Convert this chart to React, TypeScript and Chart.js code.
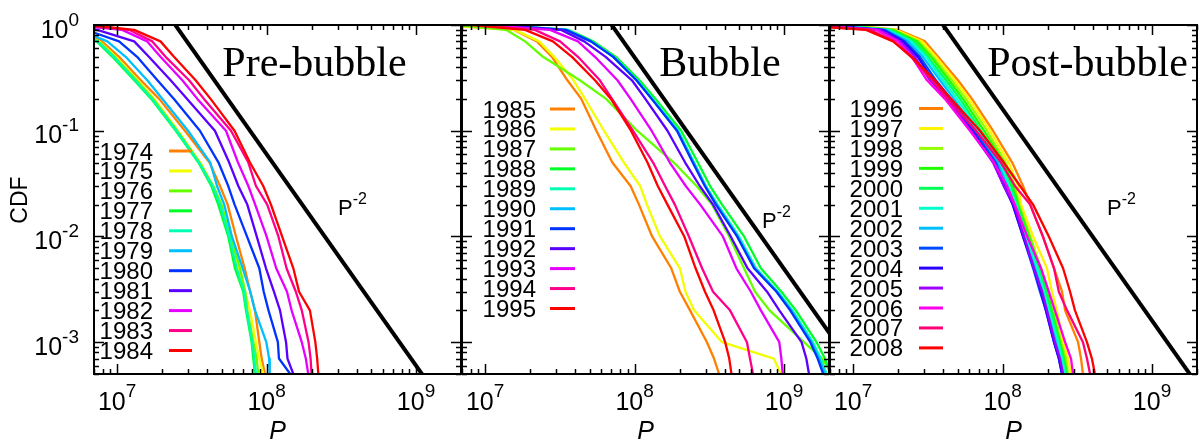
import React, { useEffect, useRef } from "react";
import { Chart, registerables } from "chart.js";

Chart.register(...registerables);

// ---------------- data ----------------
// CDF levels shared by every curve; each series gives the P value where its CDF crosses that level
const cdfLevels = [1, 0.9, 0.7, 0.5, 0.3, 0.2, 0.1, 0.05, 0.03, 0.02, 0.01, 0.005, 0.003, 0.002, 0.001, 0.0007, 0.0005];

const preBubbleYears = ["1974", "1975", "1976", "1977", "1978", "1979", "1980", "1981", "1982", "1983", "1984"];
const preBubbleP = [
  [2.2e6, 5.2e6, 7.9e6, 1.03e7, 1.44e7, 1.91e7, 2.84e7, 4.15e7, 4.88e7, 5.49e7, 6.24e7, 7.13e7, 7.78e7, 8.36e7, 8.94e7, 9.27e7, 9.75e7],
  [2.1e6, 4.7e6, 7.6e6, 9.8e6, 1.37e7, 1.77e7, 2.55e7, 3.6e7, 4.36e7, 4.93e7, 5.69e7, 6.47e7, 7.16e7, 7.74e7, 8.49e7, 8.94e7, 9.5e7],
  [2.0e6, 4.6e6, 7.5e6, 9.6e6, 1.35e7, 1.74e7, 2.52e7, 3.56e7, 4.4e7, 5.0e7, 5.75e7, 6.64e7, 7.2e7, 7.43e7, 8.15e7, 8.59e7, 8.79e7],
  [1.9e6, 4.4e6, 7.3e6, 9.3e6, 1.3e7, 1.69e7, 2.47e7, 3.5e7, 4.27e7, 4.75e7, 5.54e7, 6.14e7, 6.98e7, 7.28e7, 7.94e7, 8.15e7, 8.36e7],
  [2.0e6, 4.5e6, 7.4e6, 9.5e6, 1.32e7, 1.71e7, 2.5e7, 3.53e7, 4.34e7, 4.88e7, 5.63e7, 6.31e7, 7.06e7, 7.36e7, 8.02e7, 8.28e7, 8.49e7],
  [2.5e6, 5.5e6, 8.6e6, 1.14e7, 1.59e7, 2.01e7, 2.98e7, 4.2e7, 4.66e7, 5.21e7, 5.86e7, 6.92e7, 7.78e7, 8.36e7, 9.96e7, 1.04e8, 1.05e8],
  [3.0e6, 6.2e6, 1.03e7, 1.36e7, 1.86e7, 2.4e7, 3.58e7, 4.77e7, 5.54e7, 6.11e7, 7.39e7, 8.94e7, 9.57e7, 1.03e8, 1.19e8, 1.21e8, 1.44e8],
  [4.0e6, 7.36e6, 1.3e7, 1.63e7, 2.28e7, 2.94e7, 4.51e7, 5.62e7, 6.47e7, 7.43e7, 8.59e7, 9.91e7, 1.12e8, 1.23e8, 1.35e8, 1.38e8, 1.51e8],
  [5.0e6, 1.08e7, 1.59e7, 1.95e7, 2.73e7, 3.44e7, 5.35e7, 6.44e7, 7.55e7, 8.39e7, 1.0e8, 1.16e8, 1.37e8, 1.47e8, 1.72e8, 1.83e8, 1.9e8],
  [5.5e6, 1.2e7, 1.72e7, 2.11e7, 3.03e7, 3.81e7, 5.78e7, 7.55e7, 8.49e7, 1.01e8, 1.2e8, 1.36e8, 1.57e8, 1.72e8, 1.91e8, 1.97e8, 2.0e8],
  [6.5e6, 1.3e7, 1.95e7, 2.4e7, 3.35e7, 4.22e7, 6.1e7, 7.74e7, 9.5e7, 1.07e8, 1.27e8, 1.51e8, 1.65e8, 1.95e8, 2.12e8, 2.18e8, 2.22e8],
];

const bubbleYears = ["1985", "1986", "1987", "1988", "1989", "1990", "1991", "1992", "1993", "1994", "1995"];
const bubbleP = [
  [5e6, 1.55e7, 2.22e7, 2.8e7, 3.55e7, 4.4e7, 5.55e7, 7.1e7, 9.4e7, 1.07e8, 1.31e8, 1.76e8, 2.01e8, 2.35e8, 3.05e8, 3.4e8, 3.68e8],
  [5e6, 1.58e7, 2.3e7, 2.9e7, 3.9e7, 4.66e7, 6.24e7, 8.49e7, 1.09e8, 1.21e8, 1.48e8, 2.01e8, 2.19e8, 2.5e8, 3.85e8, 8.53e8, 9.55e8],
  [6.5e6, 1.38e7, 1.85e7, 2.44e7, 4.3e7, 6.45e7, 1.04e8, 1.83e8, 2.6e8, 3.3e8, 4.3e8, 5.4e8, 6.4e8, 8.0e8, 1.36e9, 1.8e9, 2.1e9],
  [1.25e7, 3.6e7, 5.3e7, 7.5e7, 1.08e8, 1.38e8, 2.05e8, 2.65e8, 3.2e8, 3.85e8, 5.4e8, 7.0e8, 9.6e8, 1.2e9, 1.65e9, 1.88e9, 2.05e9],
  [1.2e7, 3.5e7, 5.15e7, 7.25e7, 1.04e8, 1.32e8, 1.96e8, 2.5e8, 3.0e8, 3.6e8, 5.0e8, 6.5e8, 9.1e8, 1.14e9, 1.56e9, 1.76e9, 1.93e9],
  [1.2e7, 3.5e7, 5.1e7, 7.2e7, 1.03e8, 1.31e8, 1.94e8, 2.48e8, 2.98e8, 3.55e8, 4.9e8, 6.4e8, 9.0e8, 1.12e9, 1.53e9, 1.72e9, 1.88e9],
  [1.2e7, 3.47e7, 5.1e7, 7.2e7, 1.03e8, 1.3e8, 1.92e8, 2.45e8, 2.95e8, 3.5e8, 4.85e8, 6.3e8, 8.9e8, 1.1e9, 1.5e9, 1.68e9, 1.83e9],
  [1.1e7, 3.2e7, 4.6e7, 6.4e7, 9.6e7, 1.18e8, 1.66e8, 2.18e8, 2.73e8, 3.35e8, 4.4e8, 5.7e8, 7.7e8, 9.3e8, 1.31e9, 1.41e9, 1.47e9],
  [1e7, 2.72e7, 4.18e7, 5.43e7, 7.68e7, 9.4e7, 1.3e8, 1.72e8, 2.2e8, 2.75e8, 3.9e8, 4.8e8, 6.0e8, 7.0e8, 9.3e8, 9.6e8, 9.8e8],
  [9e6, 2.15e7, 3.17e7, 4.18e7, 5.86e7, 7.06e7, 9.75e7, 1.33e8, 1.6e8, 1.86e8, 2.31e8, 2.83e8, 3.35e8, 4.35e8, 5.65e8, 5.92e8, 6.2e8],
  [8e6, 1.85e7, 2.84e7, 3.81e7, 5.43e7, 6.95e7, 9.46e7, 1.22e8, 1.43e8, 1.66e8, 2.15e8, 2.56e8, 2.96e8, 3.38e8, 4.04e8, 4.3e8, 4.45e8],
];

const postBubbleYears = ["1996", "1997", "1998", "1999", "2000", "2001", "2002", "2003", "2004", "2005", "2006", "2007", "2008"];
const postBubbleP = [
  [9e6, 1.99e7, 3.03e7, 3.7e7, 5.03e7, 6.24e7, 8.63e7, 1.16e8, 1.37e8, 1.53e8, 1.86e8, 2.21e8, 2.5e8, 2.62e8, 3.2e8, 3.35e8, 3.45e8],
  [8.5e6, 1.93e7, 2.88e7, 3.58e7, 4.8e7, 5.96e7, 8.24e7, 1.1e8, 1.27e8, 1.33e8, 1.6e8, 1.98e8, 2.14e8, 2.31e8, 2.54e8, 2.74e8, 2.87e8],
  [8e6, 1.87e7, 2.75e7, 3.42e7, 4.58e7, 5.69e7, 7.87e7, 1.05e8, 1.21e8, 1.29e8, 1.53e8, 1.81e8, 2.01e8, 2.21e8, 2.46e8, 2.66e8, 2.74e8],
  [7.6e6, 1.82e7, 2.67e7, 3.32e7, 4.38e7, 5.43e7, 7.5e7, 1.02e8, 1.17e8, 1.27e8, 1.5e8, 1.78e8, 1.98e8, 2.14e8, 2.42e8, 2.58e8, 2.7e8],
  [7.2e6, 1.76e7, 2.55e7, 3.17e7, 4.18e7, 5.19e7, 7.16e7, 9.91e7, 1.14e8, 1.25e8, 1.46e8, 1.75e8, 1.95e8, 2.1e8, 2.38e8, 2.54e8, 2.66e8],
  [6.8e6, 1.71e7, 2.44e7, 3.07e7, 3.99e7, 4.95e7, 6.95e7, 9.61e7, 1.1e8, 1.23e8, 1.43e8, 1.7e8, 1.89e8, 2.04e8, 2.35e8, 2.5e8, 2.62e8],
  [6.4e6, 1.66e7, 2.33e7, 2.93e7, 3.81e7, 4.73e7, 6.64e7, 9.31e7, 1.07e8, 1.19e8, 1.39e8, 1.65e8, 1.84e8, 1.98e8, 2.28e8, 2.42e8, 2.54e8],
  [6e6, 1.61e7, 2.22e7, 2.8e7, 3.58e7, 4.52e7, 6.44e7, 9.03e7, 1.04e8, 1.17e8, 1.37e8, 1.6e8, 1.78e8, 1.95e8, 2.21e8, 2.38e8, 2.5e8],
  [5.7e6, 1.56e7, 2.15e7, 2.71e7, 3.42e7, 4.38e7, 6.24e7, 8.76e7, 1.02e8, 1.17e8, 1.37e8, 1.62e8, 1.81e8, 1.95e8, 2.21e8, 2.38e8, 2.5e8],
  [5.4e6, 1.51e7, 2.06e7, 2.59e7, 3.27e7, 4.25e7, 6.14e7, 8.63e7, 1.02e8, 1.19e8, 1.39e8, 1.62e8, 1.84e8, 1.98e8, 2.24e8, 2.42e8, 2.54e8],
  [5e6, 1.42e7, 1.99e7, 2.47e7, 3.12e7, 4.11e7, 6.05e7, 8.76e7, 1.07e8, 1.21e8, 1.46e8, 1.81e8, 2.04e8, 2.24e8, 2.62e8, 2.87e8, 2.96e8],
  [4.5e6, 1.3e7, 1.87e7, 2.44e7, 3.37e7, 4.31e7, 6.64e7, 9.75e7, 1.21e8, 1.53e8, 1.86e8, 2.21e8, 2.38e8, 2.7e8, 3.45e8, 3.67e8, 3.85e8],
  [4e6, 1.22e7, 1.85e7, 2.47e7, 3.53e7, 4.52e7, 7.06e7, 1.02e8, 1.31e8, 1.6e8, 2.04e8, 2.54e8, 2.83e8, 3.05e8, 3.67e8, 3.96e8, 4.15e8],
];

const panelTitles = ["Pre-bubble", "Bubble", "Post-bubble"];
// reference power law CDF = (scale / P)^2, one per panel
const powerLawScale = [2.45e7, 7.03e7, 4.0e7];
const powerLawLabel = ["P", "-2"];
const xTickDecades = [1e7, 1e8, 1e9];
const yTickDecades = [1, 1e-1, 1e-2, 1e-3];
const xRange = [7e6, 2e9];
const yRange = [5e-4, 1];
const xAxisTitle = "P";
const yAxisTitle = "CDF";

// ---------------- layout / style ----------------
const W = 1200;
const H = 441;
const panelLeft = [94, 462, 830];
const panelRight = [461, 829, 1197];
const plotTop = 25;
const plotBottom = 374;
const titleCenterX = [314.5, 720, 1087.5];
const titleBaseline = 76;
const powerLabelPos = [[338, 215], [762, 228], [1107, 215]];
const legendTextRight = [153, 536, 903];
const legendSample = [[169, 192], [550, 575], [919, 943]];
const legendFirstRow = [151, 109, 108.5];
const legendStep = 19.95;

const SANS = '"Liberation Sans", Arial, Helvetica, sans-serif';
const SERIF = '"Liberation Serif", "Times New Roman", serif';

function rainbow(i: number, n: number) {
  const hue = 30 + (i * 330) / (n - 1);
  return `hsl(${hue}, 100%, 50%)`;
}

function drawPow(
  ctx: CanvasRenderingContext2D,
  base: string,
  sup: string,
  x: number,
  y: number,
  baseSize: number,
  supSize: number,
  raise: number,
  align: "left" | "center" | "right"
) {
  ctx.font = `${baseSize}px ${SANS}`;
  const wb = ctx.measureText(base).width;
  ctx.font = `${supSize}px ${SANS}`;
  const ws = ctx.measureText(sup).width;
  const total = wb + ws;
  const x0 = align === "center" ? x - total / 2 : align === "right" ? x - total : x;
  ctx.textAlign = "left";
  ctx.textBaseline = "alphabetic";
  ctx.font = `${baseSize}px ${SANS}`;
  ctx.fillText(base, x0, y);
  ctx.font = `${supSize}px ${SANS}`;
  ctx.fillText(sup, x0 + wb, y - raise);
}

const panels = [
  { years: preBubbleYears, values: preBubbleP },
  { years: bubbleYears, values: bubbleP },
  { years: postBubbleYears, values: postBubbleP },
];

function makeDecor(idx: number) {
  return {
    id: "decor" + idx,
    afterDatasetsDraw(chart: any) {
      const { ctx, chartArea: a } = chart;
      const xs = chart.scales.x;
      const ys = chart.scales.y;
      ctx.save();
      ctx.strokeStyle = "#000";
      ctx.fillStyle = "#000";
      ctx.lineCap = "butt";

      // tick marks (inward, mirrored)
      ctx.lineWidth = 1.5;
      ctx.beginPath();
      for (let e = 6; e <= 9; e++) {
        for (let m = 1; m <= 9; m++) {
          const v = m * Math.pow(10, e);
          if (v < xRange[0] || v > xRange[1]) continue;
          const px = Math.round(xs.getPixelForValue(v)) + 0.5;
          const len = m === 1 ? 10 : 5;
          ctx.moveTo(px, a.bottom);
          ctx.lineTo(px, a.bottom - len);
          ctx.moveTo(px, a.top);
          ctx.lineTo(px, a.top + len);
        }
      }
      for (let e = -4; e <= 0; e++) {
        for (let m = 1; m <= 9; m++) {
          const v = m * Math.pow(10, e);
          if (v < yRange[0] * 0.999 || v > yRange[1] * 1.001) continue;
          const py = Math.round(ys.getPixelForValue(v)) + 0.5;
          const len = m === 1 ? 10 : 5;
          ctx.moveTo(a.left, py);
          ctx.lineTo(a.left + len, py);
          ctx.moveTo(a.right, py);
          ctx.lineTo(a.right - len, py);
        }
      }
      ctx.stroke();

      // frame
      ctx.lineWidth = 2;
      ctx.strokeRect(a.left, a.top, a.right - a.left, a.bottom - a.top);

      // x tick labels
      xTickDecades.forEach((v) => {
        const px = xs.getPixelForValue(v);
        drawPow(ctx, "10", String(Math.round(Math.log10(v))), px, 410, 25, 19, 13, "center");
      });
      // x axis title
      ctx.font = `italic 25px ${SANS}`;
      ctx.textAlign = "center";
      ctx.textBaseline = "alphabetic";
      ctx.fillText(xAxisTitle, (a.left + a.right) / 2, 439);

      if (idx === 0) {
        yTickDecades.forEach((v) => {
          const py = ys.getPixelForValue(v);
          drawPow(ctx, "10", String(Math.round(Math.log10(v))), 79, py + 12.5, 25, 19, 12, "right");
        });
        ctx.save();
        ctx.translate(21, 200);
        ctx.rotate(-Math.PI / 2);
        ctx.font = `23px ${SANS}`;
        ctx.textAlign = "center";
        ctx.textBaseline = "middle";
        ctx.fillText(yAxisTitle, 0, 0);
        ctx.restore();
      }

      // panel title
      ctx.font = `42px ${SERIF}`;
      ctx.textAlign = "center";
      ctx.textBaseline = "alphabetic";
      ctx.fillText(panelTitles[idx], titleCenterX[idx], titleBaseline);

      // power-law label
      const [lx, ly] = powerLabelPos[idx];
      drawPow(ctx, powerLawLabel[0], powerLawLabel[1], lx, ly, 22, 16, 11, "left");

      // legend
      const { years } = panels[idx];
      years.forEach((yr, i) => {
        const ry = legendFirstRow[idx] + i * legendStep;
        ctx.font = `24px ${SANS}`;
        ctx.textAlign = "right";
        ctx.textBaseline = "alphabetic";
        ctx.fillStyle = "#000";
        ctx.fillText(yr, legendTextRight[idx], ry + 8.5);
        ctx.strokeStyle = rainbow(i, years.length);
        ctx.lineWidth = 3;
        ctx.beginPath();
        ctx.moveTo(legendSample[idx][0], ry);
        ctx.lineTo(legendSample[idx][1], ry);
        ctx.stroke();
      });
      ctx.restore();
    },
  };
}

function buildConfig(idx: number): any {
  const { years, values } = panels[idx];
  const datasets: any[] = years.map((yr, i) => ({
    label: yr,
    data: values[i].map((p, k) => ({ x: p, y: cdfLevels[k] })),
    borderColor: rainbow(i, years.length),
    borderWidth: 2.3,
    pointRadius: 0,
    fill: false,
    borderJoinStyle: "round",
    order: years.length - i,
  }));
  const A = powerLawScale[idx];
  datasets.push({
    label: "power law",
    data: [A / 2, A * 100].map((p) => ({ x: p, y: Math.pow(A / p, 2) })),
    borderColor: "#000",
    borderWidth: 4,
    pointRadius: 0,
    fill: false,
    order: -1,
    clip: 0,
  });
  return {
    type: "line",
    data: { datasets },
    options: {
      animation: false,
      responsive: false,
      devicePixelRatio: 1,
      layout: {
        padding: {
          left: panelLeft[idx],
          right: W - panelRight[idx],
          top: plotTop,
          bottom: H - plotBottom,
        },
      },
      scales: {
        x: { type: "logarithmic", min: xRange[0], max: xRange[1], display: false },
        y: { type: "logarithmic", min: yRange[0], max: yRange[1], display: false },
      },
      plugins: { legend: { display: false }, tooltip: { enabled: false }, title: { display: false } },
      elements: { line: { tension: 0 }, point: { radius: 0 } },
    },
    plugins: [makeDecor(idx)],
  };
}

export default function App() {
  const r0 = useRef<HTMLCanvasElement>(null);
  const r1 = useRef<HTMLCanvasElement>(null);
  const r2 = useRef<HTMLCanvasElement>(null);
  const refs = [r0, r1, r2];
  useEffect(() => {
    const charts = refs.map((r, idx) => new Chart(r.current as HTMLCanvasElement, buildConfig(idx)));
    return () => charts.forEach((c) => c.destroy());
  }, []);
  return (
    <div style={{ position: "fixed", left: 0, top: 0, width: W, height: H, background: "#fff" }}>
      {refs.map((r, i) => (
        <canvas
          key={i}
          ref={r}
          width={W}
          height={H}
          style={{ position: "absolute", left: 0, top: 0, width: W, height: H }}
        />
      ))}
    </div>
  );
}
